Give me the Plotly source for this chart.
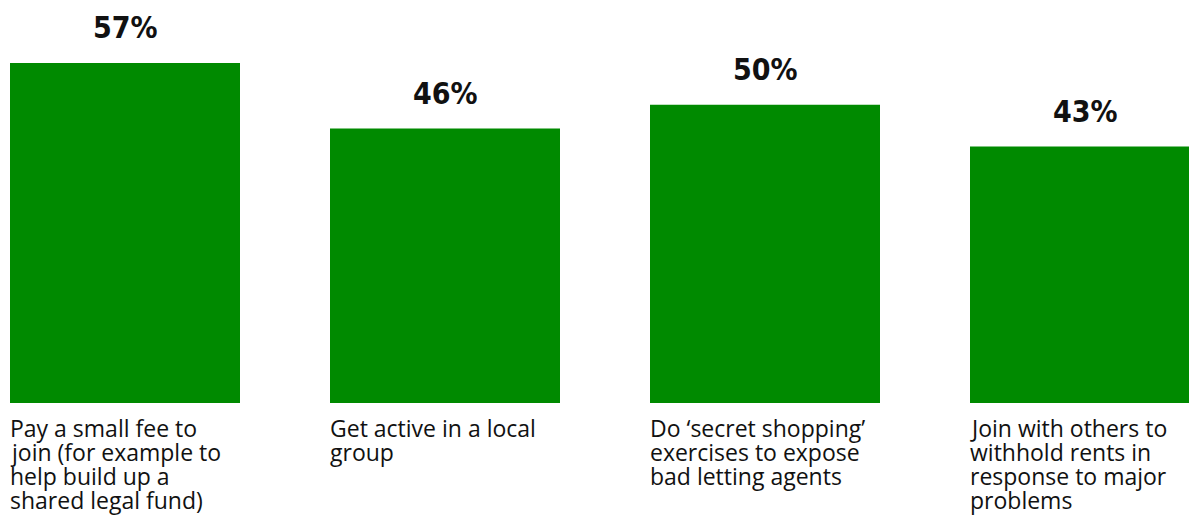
import plotly.graph_objects as go

categories = ["fee", "active", "shopping", "withhold"]
values = [57, 46, 50, 43]
value_labels = ["57%", "46%", "50%", "43%"]
label_lines = [
    ["Pay a small fee to", "join (for example to", "help build up a", "shared legal fund)"],
    ["Get active in a local", "group"],
    ["Do \u2018secret shopping\u2019", "exercises to expose", "bad letting agents"],
    ["Join with others to", "withhold rents in", "response to major", "problems"],
]

GREEN = "#008a00"
OFF = 8  # default page body margin
W, H = 1197 - OFF, 518 - OFF
PLOT_BOTTOM = 403 - OFF
PX_PER_UNIT = 320
BAR_PX = 230
FIRST_CENTER = 125 - OFF

fig = go.Figure()
fig.add_trace(go.Bar(
    x=list(range(len(categories))), y=values,
    marker=dict(color=GREEN, line=dict(width=0)),
    width=BAR_PX / PX_PER_UNIT,
    hoverinfo="skip",
))

annotations = []
for i, (v, t) in enumerate(zip(values, value_labels)):
    annotations.append(dict(
        x=i, y=v, xref="x", yref="y", text=t, showarrow=False,
        xanchor="center", yanchor="bottom", yshift=16,
        font=dict(family="DejaVu Sans Condensed", size=30, color="#111111", weight="bold"),
    ))
for i, lines in enumerate(label_lines):
    for j, line in enumerate(lines):
        annotations.append(dict(
            x=i, y=0, xref="x", yref="y", text=line, showarrow=False,
            xanchor="left", yanchor="top", xshift=-BAR_PX / 2 - 2, yshift=-7 - 24 * j,
            font=dict(family="Open Sans", size=23, color="#111111"),
        ))

x0 = -FIRST_CENTER / PX_PER_UNIT
fig.update_layout(
    width=W, height=H,
    margin=dict(l=0, r=0, t=0, b=H - PLOT_BOTTOM),
    paper_bgcolor="white", plot_bgcolor="white",
    showlegend=False,
    xaxis=dict(range=[x0, x0 + W / PX_PER_UNIT], visible=False, fixedrange=True),
    yaxis=dict(range=[0, PLOT_BOTTOM / (340 / 57)], visible=False, fixedrange=True),
    annotations=annotations,
)
fig.write_html("out.html", config={"displayModeBar": False})
